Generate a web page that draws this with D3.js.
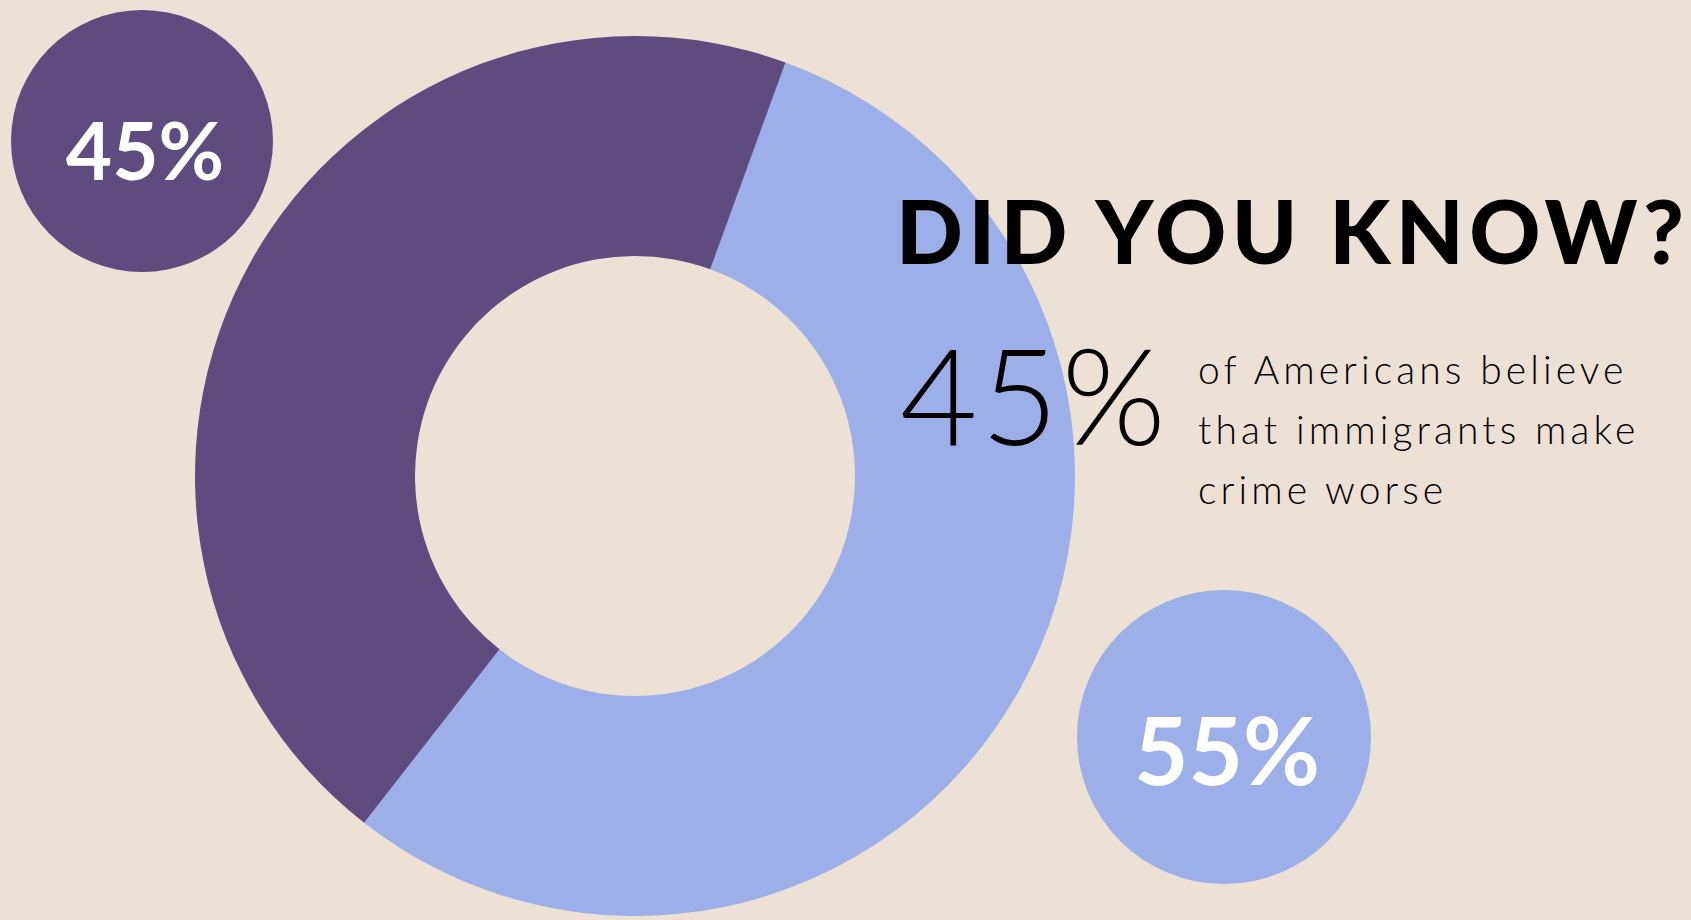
<!DOCTYPE html>
<html>
<head>
<meta charset="utf-8">
<script src="https://cdn.jsdelivr.net/npm/d3@7"></script>
<style>
  html, body { margin: 0; padding: 0; background: #EDE1D5; }
  svg { display: block; }
</style>
</head>
<body>
<div id="chart"></div>
<script>
// data
var categories = ["Make crime worse", "Do not"];
var values = [45, 55];
var pctLabels = ["45%", "55%"];
var colors = ["#5E4C80", "#9DAFE9"];
var titleText = "DID YOU KNOW?";
var statText = "45%";
var bodyLines = ["of Americans believe", "that immigrants make", "crime worse"];

var svgWidth = 1691;
var svgHeight = 920;

var svg = d3.select("#chart")
    .append("svg")
    .attr("width", svgWidth)
    .attr("height", svgHeight);

svg.append("rect")
    .attr("width", svgWidth)
    .attr("height", svgHeight)
    .attr("fill", "#EDE1D5");

// donut
var cx = 635, cy = 476;
var outerR = 440, innerR = 220;

var color = d3.scaleOrdinal().domain(categories).range(colors);

// blue slice starts ~20deg past 12 o'clock, purple wraps back over the top
var start = 20 * Math.PI / 180;
var pie = d3.pie()
    .sort(null)
    .startAngle(start)
    .endAngle(start + 2 * Math.PI)
    .value(d => d.value);

var pieData = pie([
    { cat: categories[1], value: values[1] },
    { cat: categories[0], value: values[0] }
]);

var arc = d3.arc().innerRadius(innerR).outerRadius(outerR);

var donut = svg.append("g")
    .attr("transform", `translate(${cx}, ${cy})`);

donut.selectAll("path")
    .data(pieData)
    .enter()
    .append("path")
    .attr("d", arc)
    .attr("fill", d => color(d.data.cat));

// bubbles with the percentages
var bubbles = [
    { cat: categories[0], label: pctLabels[0], x: 142, y: 141, r: 131, size: 80, base: 180 },
    { cat: categories[1], label: pctLabels[1], x: 1224, y: 737, r: 147, size: 94, base: 785 }
];

var bubbleGroup = svg.selectAll("g.bubble")
    .data(bubbles)
    .enter()
    .append("g")
    .attr("class", "bubble");

bubbleGroup.append("circle")
    .attr("cx", d => d.x)
    .attr("cy", d => d.y)
    .attr("r", d => d.r)
    .attr("fill", d => color(d.cat));

bubbleGroup.append("text")
    .attr("x", d => d.x + 3)
    .attr("y", d => d.base)
    .attr("text-anchor", "middle")
    .attr("fill", "#ffffff")
    .style("font-family", "Lato, 'Open Sans', sans-serif")
    .style("font-weight", "700")
    .style("font-size", d => d.size + "px")
    .text(d => d.label);

// title
svg.append("text")
    .attr("x", 896)
    .attr("y", 264)
    .attr("textLength", 788)
    .attr("lengthAdjust", "spacing")
    .attr("fill", "#000000")
    .style("font-family", "Lato, 'Open Sans', sans-serif")
    .style("font-weight", "900")
    .style("font-size", "88px")
    .text(titleText);

// big stat
svg.append("text")
    .attr("x", 900)
    .attr("y", 445)
    .attr("fill", "#000000")
    .style("font-family", "Lato, 'Open Sans', sans-serif")
    .style("font-weight", "300")
    .style("font-size", "134px")
    .style("letter-spacing", "3px")
    .text(statText);

// body text
svg.selectAll("text.body")
    .data(bodyLines)
    .enter()
    .append("text")
    .attr("class", "body")
    .attr("x", 1198)
    .attr("y", (d, i) => 384 + i * 60)
    .attr("fill", "#000000")
    .style("font-family", "Lato, 'Open Sans', sans-serif")
    .style("font-weight", "300")
    .style("font-size", "39px")
    .style("letter-spacing", "4.1px")
    .text(d => d);
</script>
</body>
</html>
